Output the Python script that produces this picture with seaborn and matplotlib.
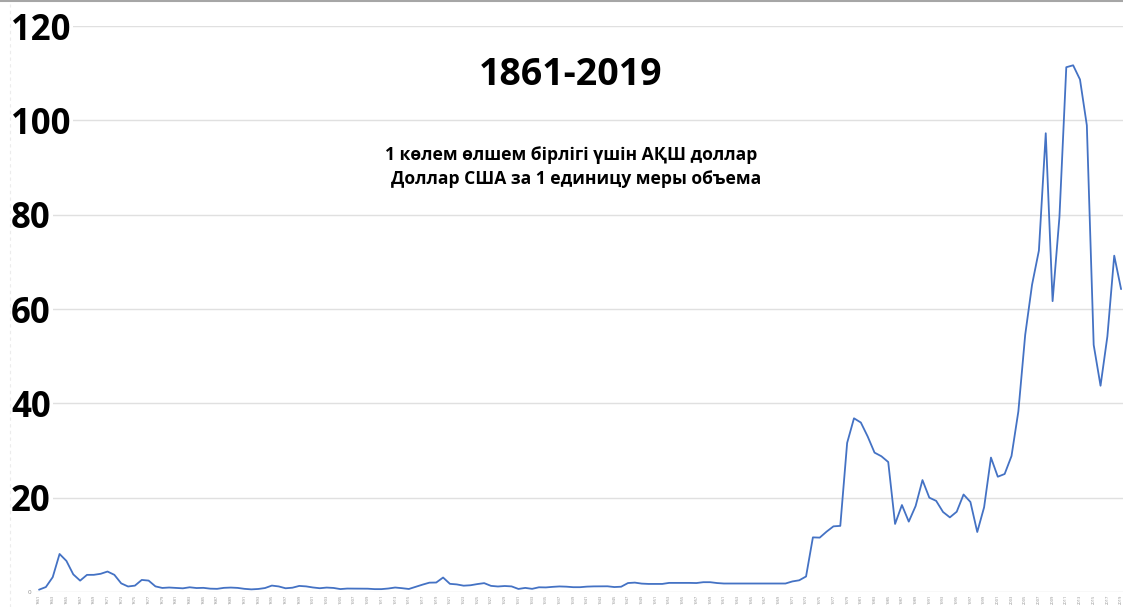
import matplotlib
matplotlib.use('Agg')
import matplotlib.pyplot as plt
import matplotlib.transforms as mtransforms
import seaborn as sns
import pandas as pd
from matplotlib.lines import Line2D

years = list(range(1861, 2020))
price = [
    0.49, 1.05, 3.15, 8.06, 6.59, 3.74, 2.41, 3.63, 3.64, 3.86,
    4.34, 3.64, 1.83, 1.17, 1.35, 2.56, 2.42, 1.19, 0.86, 0.95,
    0.86, 0.78, 1.00, 0.84, 0.88, 0.71, 0.67, 0.88, 0.94, 0.87,
    0.67, 0.56, 0.64, 0.84, 1.36, 1.18, 0.79, 0.91, 1.29, 1.19,
    0.96, 0.80, 0.94, 0.86, 0.62, 0.73, 0.72, 0.72, 0.70, 0.61,
    0.61, 0.74, 0.95, 0.81, 0.64, 1.10, 1.56, 1.98, 2.01, 3.07,
    1.73, 1.61, 1.34, 1.43, 1.68, 1.88, 1.30, 1.17, 1.27, 1.19,
    0.65, 0.87, 0.67, 1.00, 0.97, 1.09, 1.18, 1.13, 1.02, 1.02,
    1.14, 1.19, 1.20, 1.21, 1.05, 1.12, 1.90, 1.99, 1.78, 1.71,
    1.71, 1.71, 1.93, 1.93, 1.93, 1.93, 1.90, 2.08, 2.08, 1.90,
    1.80, 1.80, 1.80, 1.80, 1.80, 1.80, 1.80, 1.80, 1.80, 1.80,
    2.24, 2.48, 3.29, 11.58, 11.53, 12.80, 13.92, 14.02, 31.61, 36.83,
    35.93, 32.97, 29.55, 28.78, 27.56, 14.43, 18.44, 14.92, 18.23, 23.73,
    20.00, 19.32, 16.97, 15.82, 17.02, 20.67, 19.09, 12.72, 17.97, 28.50,
    24.44, 25.02, 28.83, 38.27, 54.52, 65.14, 72.39, 97.26, 61.67, 79.50,
    111.26, 111.67, 108.66, 98.95, 52.39, 43.73, 54.19, 71.31, 64.21,
]
y_ticks = [20, 40, 60, 80, 100, 120]
title = "1861-2019"
subtitle_kk = "1 көлем өлшем бірлігі үшін АҚШ доллар"
subtitle_ru = "Доллар США за 1 единицу меры объема"

df = pd.DataFrame({"year": years, "price": price})

sns.set_style("white")
plt.rcParams['font.family'] = ['Open Sans', 'Noto Sans', 'DejaVu Sans']

W, H = 1123, 607
fig = plt.figure(figsize=(W / 100, H / 100), dpi=100)
left_px, right_px, top_px, bot_px = 35.6, 1124.5, 26, 592
ax = fig.add_axes([left_px / W, (H - bot_px) / H,
                   (right_px - left_px) / W, (bot_px - top_px) / H])

sns.lineplot(data=df, x="year", y="price", ax=ax, color="#4472C4",
             linewidth=1.3, zorder=3)

ax.set_xlim(1860.5, 2019.5)
ax.set_ylim(0, 120)
for s in ax.spines.values():
    s.set_visible(False)
ax.set_xlabel("")
ax.set_ylabel("")

ax.set_yticks([0] + y_ticks)
ax.set_yticklabels(["0"] + [""] * len(y_ticks))
ax.tick_params(axis='y', length=0, pad=3, labelsize=4.5, labelcolor="#8c8c8c")
ax.yaxis.grid(True, color="#e0e0e0", linewidth=1.0)
ax.set_axisbelow(True)

ax.set_xticks(years[::2])
ax.set_xticklabels([str(y) for y in years[::2]], rotation=90,
                   fontsize=2.9, color="#8c8c8c")
ax.tick_params(axis='x', length=0, pad=2)

# large bold value labels sitting over the gridlines
lab_tr = mtransforms.blended_transform_factory(fig.transFigure, ax.transData)
for v in y_ticks:
    ax.text(11 / W, v - 1.0, str(v), transform=lab_tr,
            ha='left', va='center', fontsize=25, fontweight='bold',
            color="black", zorder=5,
            bbox=dict(facecolor='white', edgecolor='none', pad=1.5))

fig.text(571 / W, 1 - 75 / H, title, ha='center', va='center',
         fontsize=27, fontweight='bold', color="black",
         bbox=dict(facecolor='white', edgecolor='none', pad=1))
fig.text(571 / W, 1 - 155 / H, subtitle_kk, ha='center', va='center',
         fontsize=12.6, fontweight='bold', color="black")
fig.text(576 / W, 1 - 179 / H, subtitle_ru, ha='center', va='center',
         fontsize=12.6, fontweight='bold', color="black")

fig.add_artist(Line2D([0, 1], [1 - 0.8 / H, 1 - 0.8 / H], color="#a6a6a6",
                      linewidth=1.5, transform=fig.transFigure))
fig.add_artist(Line2D([10 / W, 10 / W], [0, 1 - 4 / H], color="#ececec",
                      linewidth=0.8, linestyle=(0, (3, 3)),
                      transform=fig.transFigure))

fig.savefig("out.png", dpi=100)
